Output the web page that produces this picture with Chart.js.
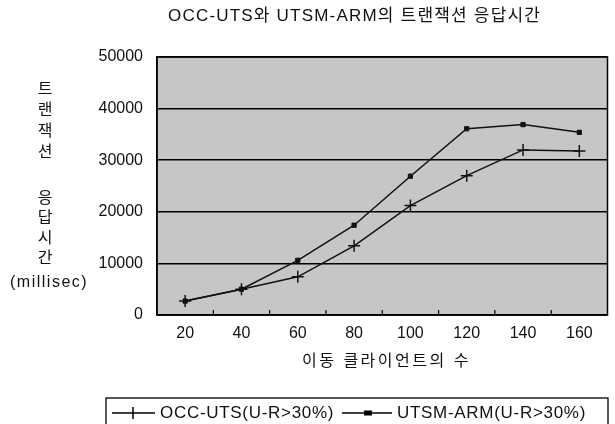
<!DOCTYPE html>
<html>
<head>
<meta charset="utf-8">
<script src="https://cdn.jsdelivr.net/npm/chart.js@4/dist/chart.umd.min.js"></script>
<style>
  html, body { margin: 0; padding: 0; background: #fff; }
  #wrap { width: 615px; height: 424px; }
</style>
</head>
<body>
<div id="wrap"><canvas id="myChart" width="615" height="424"></canvas></div>
<script>
const clients = ['20', '40', '60', '80', '100', '120', '140', '160'];
const occUts = [2700, 5000, 7400, 13400, 21200, 27000, 32000, 31800];
const utsmArm = [2700, 5000, 10600, 17400, 26900, 36100, 36900, 35400];
const seriesNames = ['OCC-UTS(U-R>30%)', 'UTSM-ARM(U-R>30%)'];
const yTicks = [0, 10000, 20000, 30000, 40000, 50000];
const chartTitle = 'OCC-UTS와 UTSM-ARM의 트랜잭션 응답시간';
const xTitle = '이동 클라이언트의 수';
const yTitleTop = '트랜잭션';
const yTitleBottom = '응답시간';
const yUnit = '(millisec)';

const FONT = "'Liberation Sans', 'Noto Sans CJK KR', sans-serif";

const decor = {
  id: 'decor',
  beforeDraw(chart) {
    const { ctx, chartArea: a } = chart;
    ctx.save();
    ctx.fillStyle = '#c6c6c6';
    ctx.fillRect(a.left, a.top, a.right - a.left, a.bottom - a.top);
    ctx.restore();
  },
  afterDraw(chart) {
    const { ctx, chartArea: a } = chart;
    const x = chart.scales.x;
    ctx.save();
    // frame
    ctx.strokeStyle = '#000';
    ctx.lineWidth = 1.5;
    ctx.strokeRect(a.left, a.top, a.right - a.left, a.bottom - a.top);
    // small x ticks between categories (pointing inward)
    ctx.lineWidth = 1.2;
    for (let i = 0; i < clients.length - 1; i++) {
      const px = (x.getPixelForTick(i) + x.getPixelForTick(i + 1)) / 2;
      ctx.beginPath();
      ctx.moveTo(px, a.bottom);
      ctx.lineTo(px, a.bottom - 5);
      ctx.stroke();
    }
    ctx.fillStyle = '#111';
    ctx.textBaseline = 'middle';
    ctx.textAlign = 'left';
    // title
    ctx.font = '17px ' + FONT;
    ctx.letterSpacing = '1.2px';
    ctx.fillText(chartTitle, 168, 16);
    // x title
    ctx.font = '16px ' + FONT;
    ctx.letterSpacing = '2.5px';
    ctx.fillText(xTitle, 302, 362);
    // y title
    ctx.textAlign = 'center';
    ctx.letterSpacing = '0px';
    const ys1 = [90, 111, 132, 153];
    const ys2 = [199, 219, 239, 259];
    [...yTitleTop].forEach((c, i) => ctx.fillText(c, 45, ys1[i]));
    [...yTitleBottom].forEach((c, i) => ctx.fillText(c, 45, ys2[i]));
    ctx.textAlign = 'left';
    ctx.letterSpacing = '1.5px';
    ctx.fillText(yUnit, 10, 283);
    // legend
    ctx.letterSpacing = '0px';
    ctx.lineWidth = 1.3;
    ctx.strokeStyle = '#000';
    ctx.strokeRect(106, 398, 502, 40);
    const ly = 413;
    ctx.lineWidth = 1.5;
    ctx.beginPath(); ctx.moveTo(112, ly); ctx.lineTo(155, ly); ctx.stroke();
    ctx.beginPath(); ctx.moveTo(133, ly - 6); ctx.lineTo(133, ly + 6); ctx.stroke();
    ctx.beginPath(); ctx.moveTo(342, ly); ctx.lineTo(392, ly); ctx.stroke();
    ctx.fillStyle = '#000';
    ctx.fillRect(364, ly - 2.5, 8, 5);
    ctx.fillStyle = '#111';
    ctx.font = '17px ' + FONT;
    ctx.letterSpacing = '0.7px';
    ctx.fillText(seriesNames[0], 160, ly);
    ctx.fillText(seriesNames[1], 397, ly);
    ctx.restore();
  }
};

new Chart(document.getElementById('myChart').getContext('2d'), {
  type: 'line',
  data: {
    labels: clients,
    datasets: [{
      label: seriesNames[0],
      data: occUts,
      borderColor: '#111',
      backgroundColor: '#111',
      borderWidth: 1.5,
      pointStyle: 'cross',
      pointRadius: 6,
      pointBorderWidth: 1.5,
      tension: 0,
      fill: false
    }, {
      label: seriesNames[1],
      data: utsmArm,
      borderColor: '#111',
      backgroundColor: '#111',
      borderWidth: 1.5,
      pointStyle: 'rect',
      pointRadius: 3,
      pointBorderWidth: 1,
      tension: 0,
      fill: false
    }]
  },
  options: {
    responsive: false,
    animation: false,
    layout: { padding: { left: 0, top: 57, right: 3, bottom: 69 } },
    plugins: {
      legend: { display: false },
      title: { display: false },
      tooltip: { enabled: false }
    },
    scales: {
      x: {
        offset: true,
        grid: { display: false, offset: true, drawTicks: false },
        border: { display: true, color: '#000', width: 1.5 },
        ticks: { color: '#111', font: { family: FONT, size: 16 }, padding: 9, maxRotation: 0 },
        afterFit(s) { s.height = 40; }
      },
      y: {
        min: 0,
        max: 50000,
        afterBuildTicks(s) { s.ticks = yTicks.map(v => ({ value: v })); },
        grid: { color: '#000', lineWidth: 1.5, drawTicks: false },
        border: { display: true, color: '#000', width: 1.5 },
        ticks: { color: '#111', font: { family: FONT, size: 16 }, padding: 14, callback: v => String(v) },
        afterFit(s) { s.width = 157; }
      }
    }
  },
  plugins: [decor]
});
</script>
</body>
</html>
